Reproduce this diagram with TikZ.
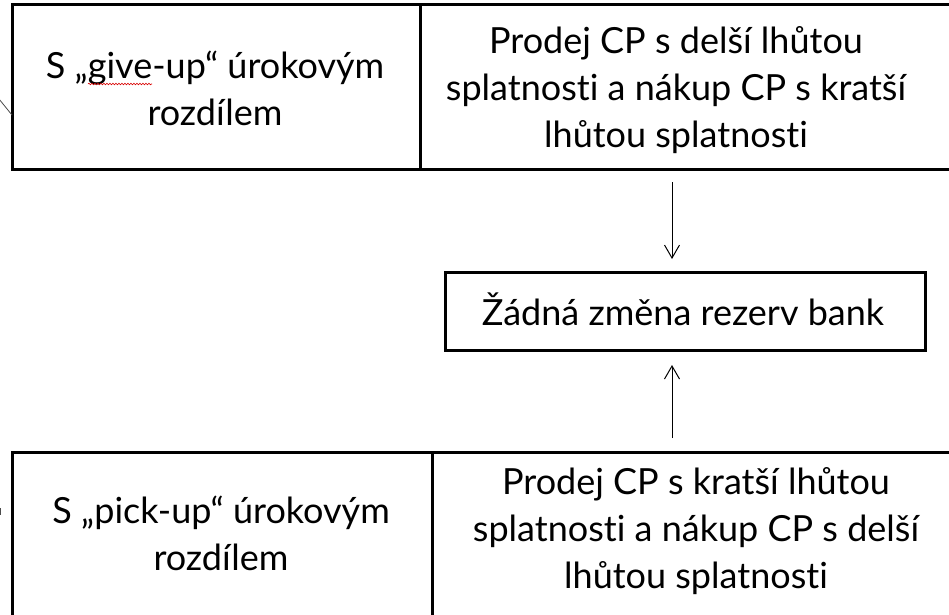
\documentclass[tikz,border=0pt]{standalone}
\usepackage{fontspec}
\setmainfont{Lato}[RawFeature={-liga;-dlig;-clig}]
\usetikzlibrary{arrows.meta,decorations.pathmorphing}
\begin{document}
\begin{tikzpicture}[x=1pt,y=-1pt,
  box/.style={draw=black,line width=3pt,inner sep=0pt,outer sep=0pt},
  txt/.style={font=\fontsize{36}{47}\selectfont,align=center,inner sep=0pt,anchor=base},
  conn/.style={line width=1pt,-{Straight Barb[length=13pt,width=15pt]}}]
\clip (0,0) rectangle (949,614);
\fill[white] (0,0) rectangle (949,614);
% boxes
\node[box,minimum width=408pt,minimum height=165pt] (tl) at (216,86.5) {};
\node[box,minimum width=580pt,minimum height=165pt] (tr) at (710,86.5) {};
\node[box,minimum width=480pt,minimum height=78pt] (m) at (685,311) {};
\node[box,minimum width=420pt,minimum height=248pt] (bl) at (222,576) {};
\node[box,minimum width=568pt,minimum height=248pt] (br) at (716,576) {};
% texts (anchor = baseline of the last line)
\node[txt] (tltext) at (215,125) {S „give-up“ úrokovým\\rozdílem};
\node[txt] (trtext) at (676,147) {Prodej CP s delší lhůtou\\splatnosti a nákup CP s kratší\\lhůtou splatnosti};
\node[txt] (mtext) at (683,325) {Žádná změna rezerv bank};
\node[txt] (bltext) at (221,570) {S „pick-up“ úrokovým\\rozdílem};
\node[txt] (brtext) at (696,588) {Prodej CP s kratší lhůtou\\splatnosti a nákup CP s delší\\lhůtou splatnosti};
% spell-check underline
\draw[red!85!black,line width=0.6pt,decorate,decoration={snake,amplitude=0.8pt,segment length=3pt}] (88,84) -- (152,84);
% connectors
\coordinate (ax) at (672,0);
\draw[conn,shorten <=13pt,shorten >=13pt] (ax |- tr.south) -- (ax |- m.north);
\draw[conn,shorten <=14pt,shorten >=15pt] (ax |- br.north) -- (ax |- m.south);
% partial connectors at the left edge
\coordinate (dstart) at (-1,99);
\draw[line width=0.8pt,black!70] (dstart) -- (tl.west |- 0,115);
\coordinate (mk1) at (0.5,508);
\coordinate (mk2) at (0.5,515);
\draw[line width=1pt,black!70] (mk1) -- (mk2);
\end{tikzpicture}
\end{document}
